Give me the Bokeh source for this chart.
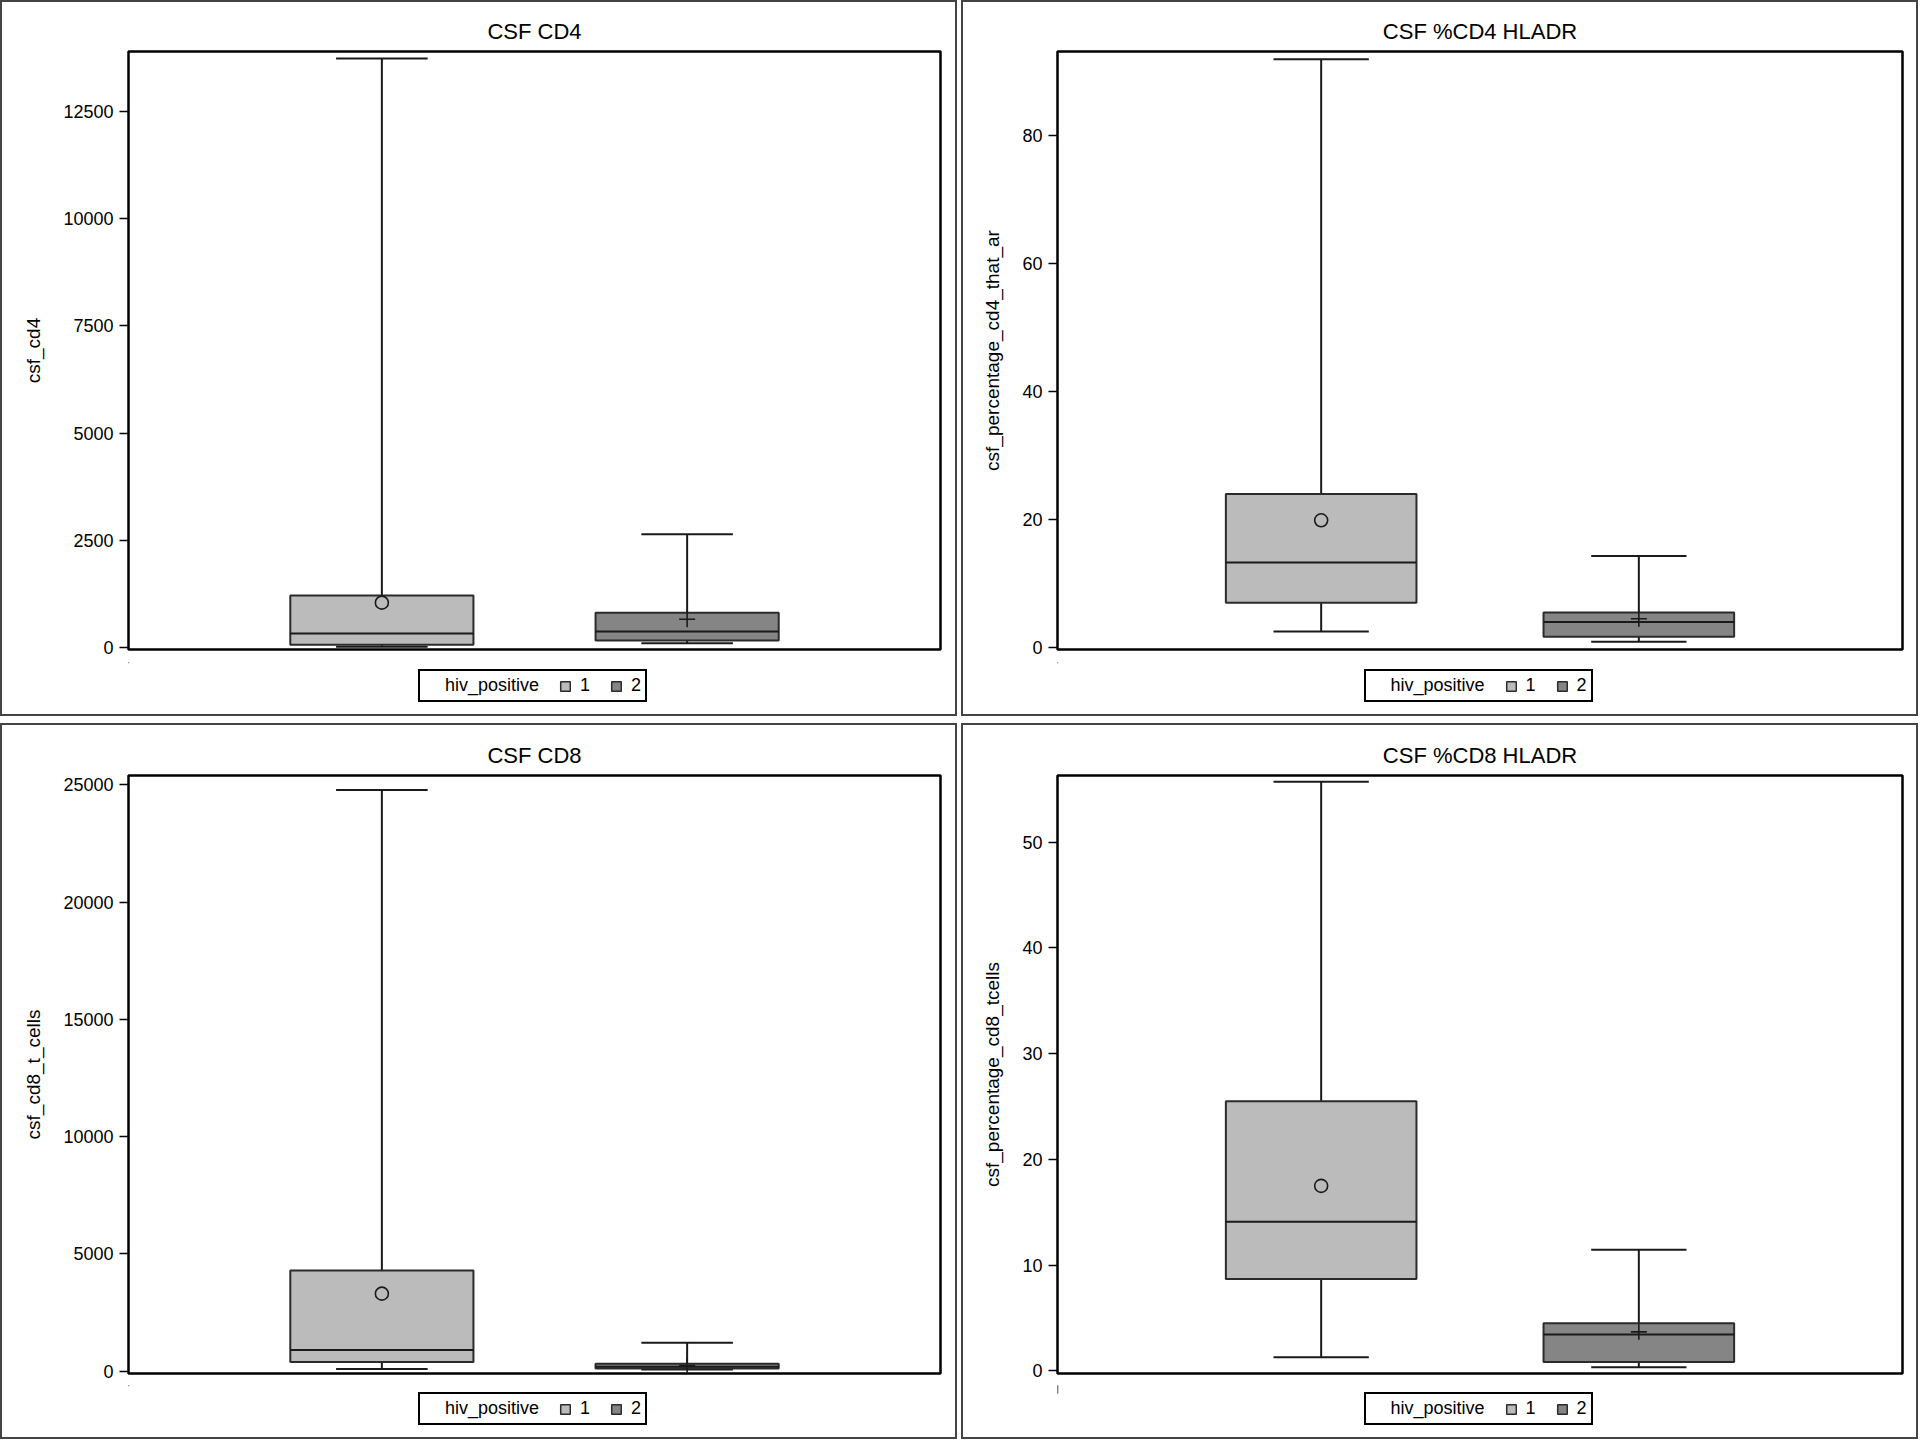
from bokeh.plotting import figure
from bokeh.models import ColumnDataSource, Range1d, FixedTicker, Legend, LegendItem
from bokeh.layouts import column, row
from bokeh.embed import file_html
from bokeh.resources import INLINE

# ---------------- data ----------------
groups = [1, 2]
group_names = ["1", "2"]
legend_title = "hiv_positive"

titles = ["CSF CD4", "CSF %CD4 HLADR", "CSF CD8", "CSF %CD8 HLADR"]
ylabels = ["csf_cd4", "csf_percentage_cd4_that_ar", "csf_cd8_t_cells", "csf_percentage_cd8_tcells"]

cd4_min = [15, 100]
cd4_q1 = [65, 165]
cd4_median = [326, 370]
cd4_q3 = [1215, 812]
cd4_max = [13735, 2640]
cd4_mean = [1045, 660]
cd4_ticks = [0, 2500, 5000, 7500, 10000, 12500]
cd4_yrange = (-47, 13897)

pcd4_min = [2.5, 0.9]
pcd4_q1 = [7.0, 1.7]
pcd4_median = [13.3, 4.0]
pcd4_q3 = [24.0, 5.5]
pcd4_max = [92.0, 14.3]
pcd4_mean = [19.9, 4.5]
pcd4_ticks = [0, 20, 40, 60, 80]
pcd4_yrange = (-0.3, 93.2)

cd8_min = [85, 60]
cd8_q1 = [380, 110]
cd8_median = [900, 180]
cd8_q3 = [4290, 310]
cd8_max = [24790, 1210]
cd8_mean = [3300, 230]
cd8_ticks = [0, 5000, 10000, 15000, 20000, 25000]
cd8_yrange = (-106, 25405)

pcd8_min = [1.3, 0.35]
pcd8_q1 = [8.7, 0.85]
pcd8_median = [14.1, 3.45]
pcd8_q3 = [25.5, 4.5]
pcd8_max = [55.7, 11.45]
pcd8_mean = [17.5, 3.7]
pcd8_ticks = [0, 10, 20, 30, 40, 50]
pcd8_yrange = (-0.24, 56.3)

# ---------------- styles ----------------
FONT = "Liberation Sans"
fills = ["#BBBBBB", "#858585"]
mean_markers = ["circle", "cross"]
mean_sizes = [13, 16]
BOX_W = 0.6
CAP_W = 0.3
LINE = "#1a1a1a"
LW = 2
PANEL_W = 953
MAIN_H = 660
LEG_H = 52
LEG_W = 226


def make_panel(title, ylabel, mins, q1s, meds, q3s, maxs, means, ticks, yr, bl, br, bt, bb):
    src = ColumnDataSource(dict(
        x=groups, lo=mins, q1=q1s, med=meds, q3=q3s, hi=maxs, mean=means,
        fill=fills, marker=mean_markers, msize=mean_sizes,
        box_l=[g - BOX_W / 2 for g in groups], box_r=[g + BOX_W / 2 for g in groups],
        cap_l=[g - CAP_W / 2 for g in groups], cap_r=[g + CAP_W / 2 for g in groups],
    ))
    p = figure(width=PANEL_W, height=MAIN_H, output_backend="svg", toolbar_location=None,
               x_range=Range1d(0.17, 2.83), y_range=Range1d(*yr), x_axis_location=None,
               min_border_left=bl, min_border_right=br, min_border_top=bt, min_border_bottom=bb,
               title=title)
    p.segment(x0="x", y0="q3", x1="x", y1="hi", source=src, line_color=LINE, line_width=LW)
    p.segment(x0="x", y0="lo", x1="x", y1="q1", source=src, line_color=LINE, line_width=LW)
    p.segment(x0="cap_l", y0="hi", x1="cap_r", y1="hi", source=src, line_color=LINE, line_width=LW)
    p.segment(x0="cap_l", y0="lo", x1="cap_r", y1="lo", source=src, line_color=LINE, line_width=LW)
    p.vbar(x="x", width=BOX_W, bottom="q1", top="q3", source=src,
           fill_color="fill", line_color="#2b2b2b", line_width=LW)
    p.segment(x0="box_l", y0="med", x1="box_r", y1="med", source=src, line_color=LINE, line_width=LW)
    p.scatter(x="x", y="mean", marker="marker", size="msize", source=src,
              fill_color=None, line_color=LINE, line_width=1.6)

    p.xgrid.visible = False
    p.ygrid.visible = False
    ax = p.yaxis[0]
    ax.ticker = FixedTicker(ticks=ticks)
    ax.axis_label = ylabel
    ax.axis_line_color = None
    ax.major_tick_out = 9
    ax.major_tick_in = 0
    ax.major_tick_line_color = "black"
    ax.major_tick_line_width = 1.6
    ax.minor_tick_line_color = None
    ax.major_label_standoff = 6
    ax.axis_label_standoff = 16
    ax.major_label_text_font = FONT
    ax.major_label_text_font_size = "18px"
    ax.major_label_text_color = "black"
    ax.axis_label_text_font = FONT
    ax.axis_label_text_font_size = "19px"
    ax.axis_label_text_font_style = "normal"
    ax.axis_label_text_color = "black"

    p.outline_line_color = "black"
    p.outline_line_width = 2.5
    p.outline_line_alpha = 1

    p.title.text_font = FONT
    p.title.text_font_size = "22px"
    p.title.text_font_style = "normal"
    p.title.text_color = "black"
    p.title.align = "center"
    p.title.standoff = 15

    # legend strip below the plot (its own small figure, so the legend is not clipped)
    frame_w = PANEL_W - bl - br
    q = figure(width=PANEL_W, height=LEG_H, output_backend="svg", toolbar_location=None,
               x_range=Range1d(100, 101), y_range=Range1d(0, 1),
               x_axis_location=None, y_axis_location=None,
               min_border_left=bl, min_border_right=br, min_border_top=0, min_border_bottom=0)
    q.grid.visible = False
    q.outline_line_color = None
    vb_leg = q.vbar(x="x", width=BOX_W, bottom="q1", top="q3", source=src,
                    fill_color="fill", line_color="#2b2b2b", line_width=1.5)
    items = [LegendItem(label=legend_title, renderers=[]),
             LegendItem(label=group_names[0], renderers=[vb_leg], index=0),
             LegendItem(label=group_names[1], renderers=[vb_leg], index=1)]
    leg = Legend(items=items, orientation="horizontal",
                 location=((frame_w - LEG_W) / 2 - 3, 12),
                 glyph_width=12, glyph_height=12, label_standoff=9, spacing=20,
                 padding=4, margin=0, label_height=18, label_width=10,
                 label_text_font=FONT, label_text_font_size="18px", label_text_color="black",
                 border_line_color="black", border_line_width=2, border_line_alpha=1,
                 background_fill_color="white", background_fill_alpha=1)
    q.add_layout(leg)
    return column(p, q, spacing=0, styles={"border": "2px solid #444444"})


c1 = make_panel(titles[0], ylabels[0], cd4_min, cd4_q1, cd4_median, cd4_q3, cd4_max, cd4_mean,
                cd4_ticks, cd4_yrange, 126, 15, 49, 13)
c2 = make_panel(titles[1], ylabels[1], pcd4_min, pcd4_q1, pcd4_median, pcd4_q3, pcd4_max, pcd4_mean,
                pcd4_ticks, pcd4_yrange, 94, 14, 49, 13)
c3 = make_panel(titles[2], ylabels[2], cd8_min, cd8_q1, cd8_median, cd8_q3, cd8_max, cd8_mean,
                cd8_ticks, cd8_yrange, 126, 15, 50, 12)
c4 = make_panel(titles[3], ylabels[3], pcd8_min, pcd8_q1, pcd8_median, pcd8_q3, pcd8_max, pcd8_mean,
                pcd8_ticks, pcd8_yrange, 94, 14, 50, 12)

layout = column(row(c1, c2, spacing=4), row(c3, c4, spacing=4), spacing=7)

open("out.html", "w").write(file_html(layout, INLINE))
